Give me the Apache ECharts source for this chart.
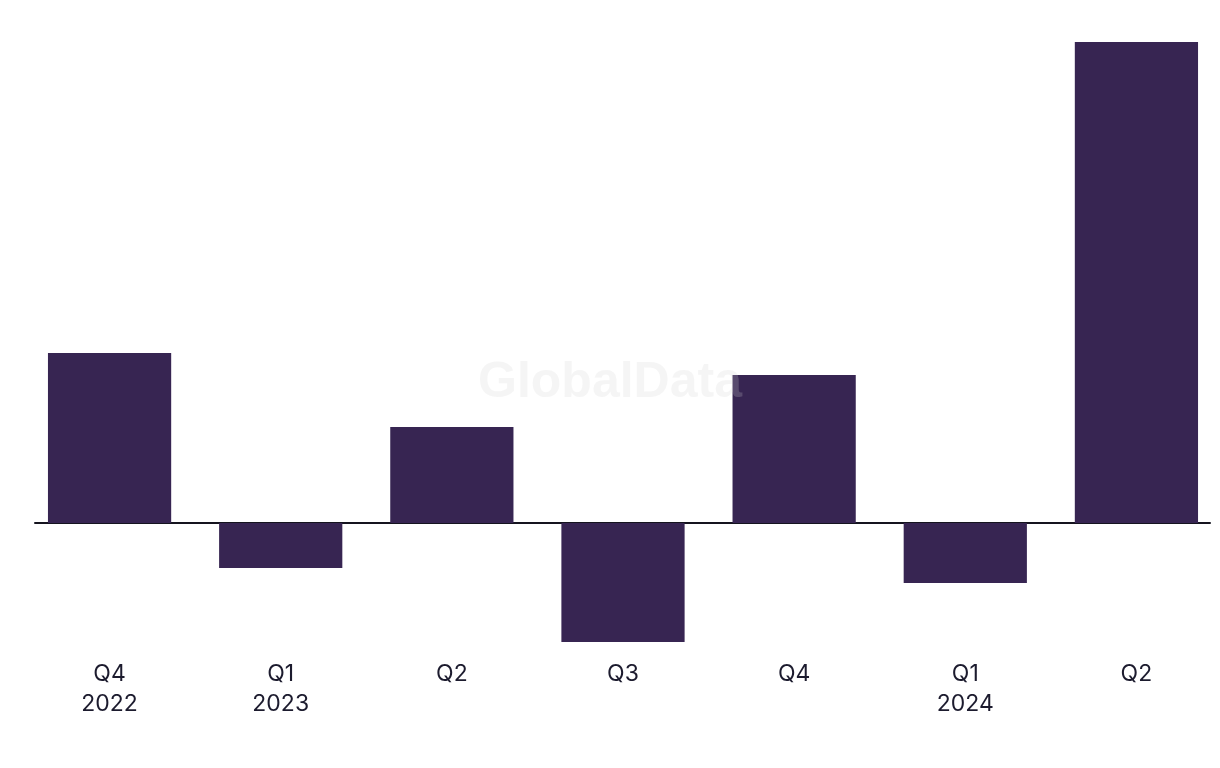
<!DOCTYPE html>
<html>
<head>
<meta charset="utf-8">
<script src="https://cdn.jsdelivr.net/npm/echarts@6/dist/echarts.min.js"></script>
<style>
html,body{margin:0;padding:0;background:#fff;}
#c{width:1220px;height:768px;}
</style>
</head>
<body>
<div id="c"></div>
<script>
const categories = ['Q4\n2022', 'Q1\n2023', 'Q2', 'Q3', 'Q4', 'Q1\n2024', 'Q2'];
const values = [1.70, -0.45, 0.96, -1.19, 1.48, -0.60, 4.81];
const yMin = -1.27;
const yMax = 4.81;

const chart = echarts.init(document.getElementById('c'));
chart.setOption({
  backgroundColor: '#ffffff',
  animation: false,
  grid: [
    { left: 24, width: 1198, top: 42, bottom: 118, containLabel: false, outerBoundsMode: 'none' },
    { left: 35, right: 10, top: 42, bottom: 118, containLabel: false, outerBoundsMode: 'none' }
  ],
  xAxis: [
    {
      type: 'category',
      gridIndex: 0,
      data: categories,
      axisLine: { show: false, onZero: false },
      axisTick: { show: false },
      axisLabel: {
        margin: 9,
        fontFamily: 'Inter',
        fontSize: 23,
        lineHeight: 30,
        color: '#1c1b2e',
        verticalAlign: 'top'
      },
      splitLine: { show: false }
    },
    {
      type: 'value',
      gridIndex: 1,
      min: 0,
      max: 1,
      axisLine: { show: true, onZero: true, lineStyle: { color: '#15141f', width: 2 } },
      axisTick: { show: false },
      axisLabel: { show: false },
      splitLine: { show: false }
    }
  ],
  yAxis: [
    {
      type: 'value',
      gridIndex: 0,
      min: yMin,
      max: yMax,
      axisLine: { show: false },
      axisTick: { show: false },
      axisLabel: { show: false },
      splitLine: { show: false }
    },
    {
      type: 'value',
      gridIndex: 1,
      min: yMin,
      max: yMax,
      axisLine: { show: false },
      axisTick: { show: false },
      axisLabel: { show: false },
      splitLine: { show: false }
    }
  ],
  series: [
    {
      type: 'bar',
      xAxisIndex: 0,
      yAxisIndex: 0,
      data: values,
      barWidth: '72%',
      itemStyle: { color: '#372552' },
      z: 2
    }
  ],
  graphic: [
    {
      type: 'text',
      left: 'center',
      top: 358,
      z: 100,
      silent: true,
      style: {
        text: 'GlobalData',
        font: 'bold 50px "Liberation Sans", Arial, sans-serif',
        fill: 'rgba(210,210,210,0.22)'
      }
    }
  ]
});
</script>
</body>
</html>
